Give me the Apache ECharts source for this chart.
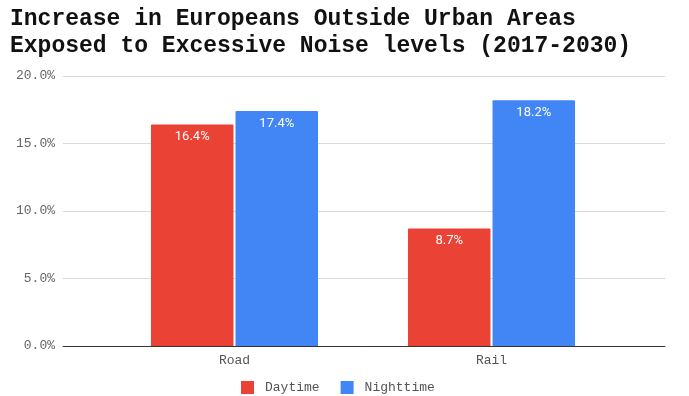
<!DOCTYPE html>
<html>
<head>
<meta charset="utf-8">
<script src="https://cdn.jsdelivr.net/npm/echarts@6/dist/echarts.min.js"></script>
<style>
  html, body { margin: 0; padding: 0; background: #fff; }
  #chart { width: 689px; height: 396px; }
</style>
</head>
<body>
<div id="chart"></div>
<script>
const categories = ['Road', 'Rail'];
const daytime = [16.4, 8.7];
const nighttime = [17.4, 18.2];
const yTicks = [0, 5, 10, 15, 20];

const mono = '"Liberation Mono", "DejaVu Sans Mono", monospace';
const chart = echarts.init(document.getElementById('chart'));

const barLabel = {
  show: true,
  position: 'insideTop',
  distance: 6,
  color: '#fff',
  fontFamily: 'Roboto, sans-serif',
  fontSize: 13,
  formatter: p => p.value.toFixed(1) + '%'
};

chart.setOption({
  animation: false,
  title: {
    text: 'Increase in Europeans Outside Urban Areas\nExposed to Excessive Noise levels (2017-2030)',
    left: 5,
    top: 1,
    textStyle: { fontFamily: mono, fontWeight: 'bold', fontSize: 23, lineHeight: 27, color: '#111' }
  },
  legend: {
    bottom: 0,
    padding: 2,
    left: 239,
    itemWidth: 13,
    itemHeight: 13,
    itemGap: 21,
    icon: 'rect',
    textStyle: { fontFamily: mono, fontSize: 13, color: '#555', padding: [0, 0, 0, 6] },
    data: ['Daytime', 'Nighttime']
  },
  grid: [
    { left: 63, right: 24, top: 76, bottom: 50 },
    { left: 106, right: 69, top: 76, bottom: 50 }
  ],
  xAxis: [
    {
      gridIndex: 0, type: 'value', min: 0, max: 1,
      axisLine: { show: true, onZero: false, lineStyle: { color: '#333', width: 1 } },
      axisTick: { show: false }, axisLabel: { show: false }, splitLine: { show: false }
    },
    {
      gridIndex: 1, type: 'category', data: categories,
      axisLine: { show: false }, axisTick: { show: false },
      axisLabel: { fontFamily: mono, fontSize: 13, color: '#555', margin: 8 }
    }
  ],
  yAxis: [
    {
      gridIndex: 0, type: 'value', min: yTicks[0], max: yTicks[yTicks.length - 1], interval: 5,
      axisLine: { show: false }, axisTick: { show: false },
      axisLabel: { fontFamily: mono, fontSize: 13, color: '#666', margin: 8, formatter: v => v.toFixed(1) + '%' },
      splitLine: { lineStyle: { color: '#d9d9d9' } }
    },
    {
      gridIndex: 1, type: 'value', min: 0, max: 20,
      axisLine: { show: false }, axisTick: { show: false }, axisLabel: { show: false }, splitLine: { show: false }
    }
  ],
  series: [
    {
      name: 'Daytime', type: 'bar', xAxisIndex: 1, yAxisIndex: 1,
      data: daytime, barGap: '2.5%', barCategoryGap: '35%',
      itemStyle: { color: '#EA4335', borderRadius: [1, 1, 0, 0] },
      label: barLabel
    },
    {
      name: 'Nighttime', type: 'bar', xAxisIndex: 1, yAxisIndex: 1,
      data: nighttime, barGap: '2.5%', barCategoryGap: '35%',
      itemStyle: { color: '#4285F4', borderRadius: [1, 1, 0, 0] },
      label: barLabel
    }
  ]
});
</script>
</body>
</html>
